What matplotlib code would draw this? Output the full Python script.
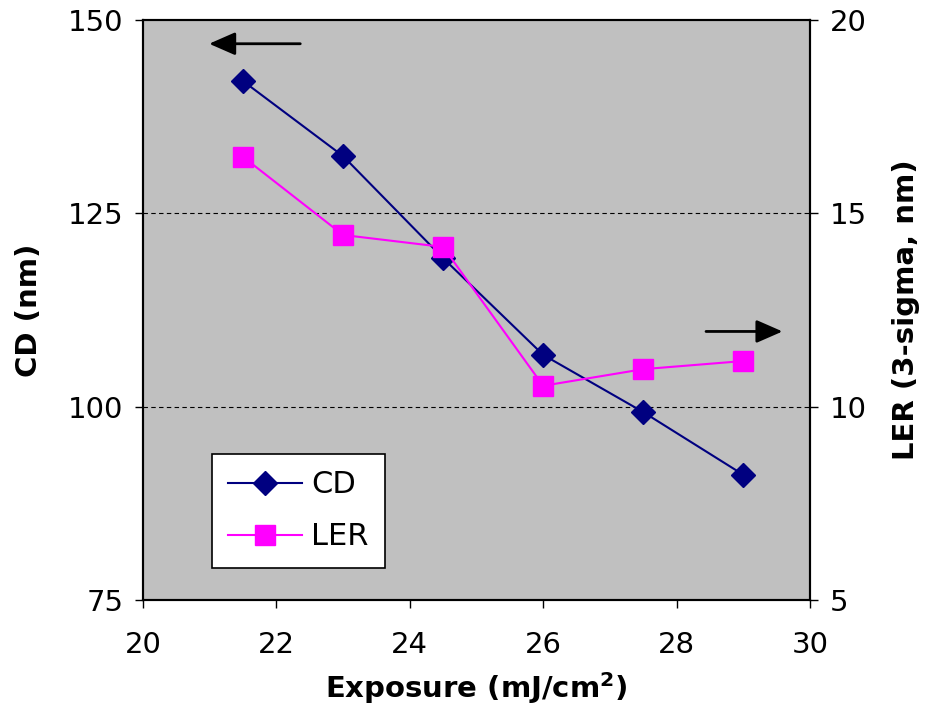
import matplotlib
matplotlib.use("Agg")
import matplotlib.pyplot as plt

exposure = [21.5, 23.0, 24.5, 26.0, 27.5, 29.0]
cd_nm = [142.1, 132.4, 119.2, 106.7, 99.3, 91.2]
ler_nm = [16.46, 14.44, 14.13, 10.54, 10.97, 11.18]

plt.rcParams["font.family"] = ["DejaVu Sans"]

fig = plt.figure(figsize=(9.26, 7.08), dpi=100)
ax = fig.add_axes([0.1544, 0.1525, 0.7203, 0.8193])
ax.set_facecolor("#C0C0C0")
ax2 = ax.twinx()

l1, = ax.plot(exposure, cd_nm, color="#000080", lw=1.5, marker="D", ms=12,
              label="CD", zorder=3)
l2, = ax2.plot(exposure, ler_nm, color="#FF00FF", lw=1.5, marker="s", ms=14,
               label="LER", zorder=3)

ax.set_xlim(20, 30)
ax.set_ylim(75, 150)
ax2.set_ylim(5, 20)
ax.set_xticks([20, 22, 24, 26, 28, 30])
ax.set_yticks([75, 100, 125, 150])
ax2.set_yticks([5, 10, 15, 20])
for y in (100, 125):
    ax.axhline(y, color="black", lw=0.8, ls=(0, (4, 3)), zorder=1)

for a in (ax, ax2):
    a.tick_params(direction="out", length=6, labelsize=21, width=1)
    for s in a.spines.values():
        s.set_linewidth(1.5)
ax.tick_params(axis="x", pad=16)
ax.tick_params(axis="y", pad=8)
ax2.tick_params(axis="y", pad=8)

ax.set_xlabel("Exposure (mJ/cm$^\\mathbf{2}$)", fontsize=21, fontweight="bold", labelpad=8)
ax.set_ylabel("CD (nm)", fontsize=21, fontweight="bold", labelpad=18)
ax2.set_ylabel("LER (3-sigma, nm)", fontsize=21, fontweight="bold", labelpad=18)

# arrows pointing each series at its axis
ax.annotate("", xy=(0.095, 0.959), xytext=(0.24, 0.959), xycoords="axes fraction",
            arrowprops=dict(arrowstyle="-|>,head_length=1.6,head_width=0.7",
                            color="black", lw=2))
ax.annotate("", xy=(0.963, 0.463), xytext=(0.84, 0.463), xycoords="axes fraction",
            arrowprops=dict(arrowstyle="-|>,head_length=1.6,head_width=0.7",
                            color="black", lw=2))

leg = ax2.legend(handles=[l1, l2], loc="lower left", bbox_to_anchor=(0.103, 0.055),
                 borderaxespad=0, fontsize=22, frameon=True, fancybox=False,
                 edgecolor="black", facecolor="white", framealpha=1,
                 handlelength=2.4, handletextpad=0.3, labelspacing=0.75,
                 borderpad=0.55)
leg.get_frame().set_linewidth(1.2)

fig.savefig("out.png", dpi=100)
